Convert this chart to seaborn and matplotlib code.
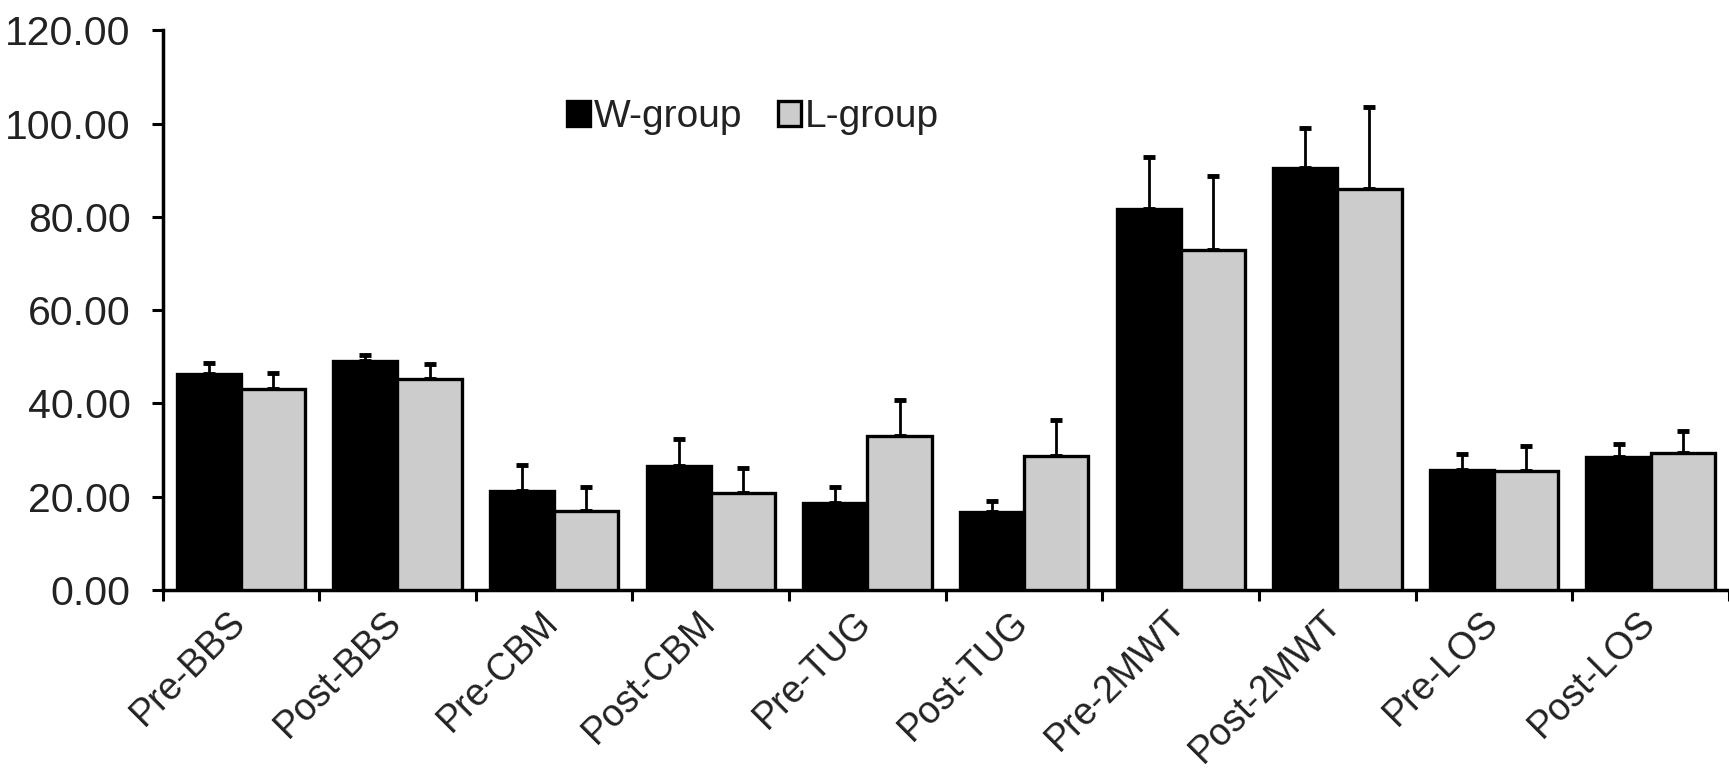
import numpy as np
import pandas as pd
import seaborn as sns
import matplotlib.pyplot as plt

categories = ["Pre-BBS", "Post-BBS", "Pre-CBM", "Post-CBM", "Pre-TUG",
              "Post-TUG", "Pre-2MWT", "Post-2MWT", "Pre-LOS", "Post-LOS"]
groups = ["W-group", "L-group"]
w_mean = [46.3, 49.2, 21.2, 26.6, 18.7, 16.8, 81.7, 90.5, 25.7, 28.6]
w_sd = [2.4, 1.2, 5.5, 5.8, 3.3, 2.3, 11.1, 8.5, 3.4, 2.7]
l_mean = [43.0, 45.2, 17.0, 20.8, 33.0, 28.8, 73.0, 86.0, 25.5, 29.3]
l_sd = [3.6, 3.3, 5.0, 5.4, 7.8, 7.7, 15.8, 17.5, 5.3, 4.8]
y_ticks = [0, 20, 40, 60, 80, 100, 120]

df = pd.DataFrame({
    "Measure": categories * 2,
    "Group": [groups[0]] * len(categories) + [groups[1]] * len(categories),
    "Mean": w_mean + l_mean,
})

sns.set_theme(style="ticks")
plt.rcParams['font.family'] = ['Liberation Sans', 'DejaVu Sans']

fig = plt.figure(figsize=(17.29, 7.77), dpi=100)
ax = fig.add_axes([0.094, 0.2407, 0.906, 0.7203])

sns.barplot(data=df, x="Measure", y="Mean", hue="Group", order=categories,
            hue_order=groups, palette={"W-group": "black", "L-group": "#cccccc"},
            edgecolor="black", linewidth=2.4, width=0.82, saturation=1,
            errorbar=None, ax=ax, zorder=3)

sds = [w_sd, l_sd]
for cont, sd in zip(ax.containers, sds):
    xs = [p.get_x() + p.get_width() / 2 for p in cont]
    ys = [p.get_height() for p in cont]
    ax.errorbar(xs, ys, yerr=[np.zeros(len(sd)), sd], fmt='none', ecolor='black',
                elinewidth=2.0, capsize=4.5, capthick=3.5, zorder=2)

ax.set_ylim(0, 120)
ax.set_xlim(-0.5, 9.455)
ax.set_yticks(y_ticks)
ax.set_yticklabels([f"{v:.2f}" for v in y_ticks], fontsize=29.5, color="#222222")

# category labels: rotated, anchored just left of each category centre
ax.set_xticks(range(len(categories)))
ax.set_xticklabels([])
for i, cat in enumerate(categories):
    ax.annotate(cat, xy=(i, 0), xycoords=ax.get_xaxis_transform(),
                xytext=(-10, -10), textcoords='offset points',
                rotation=45, ha='right', va='top', rotation_mode='anchor',
                fontsize=27, color="#222222", annotation_clip=False)

ax.set_xticks(np.arange(-0.5, len(categories), 1), minor=True)
ax.tick_params(axis='x', which='major', length=0)
ax.tick_params(axis='x', which='minor', length=8, width=2.2, direction='out', color='black')
ax.tick_params(axis='y', which='major', length=8, width=2.2, direction='out', pad=15, color='black')
ax.set_xlabel("")
ax.set_ylabel("")

for s in ["top", "right"]:
    ax.spines[s].set_visible(False)
for s in ["left", "bottom"]:
    ax.spines[s].set_linewidth(2.5)
    ax.spines[s].set_color("black")

leg = ax.legend(loc='center', bbox_to_anchor=(0.377, 0.845), ncol=2, frameon=False,
                fontsize=28, handlelength=0.6, handleheight=0.6, handletextpad=0.1,
                columnspacing=0.9)
for t in leg.get_texts():
    t.set_color("#222222")

fig.savefig("out.png", dpi=100)
